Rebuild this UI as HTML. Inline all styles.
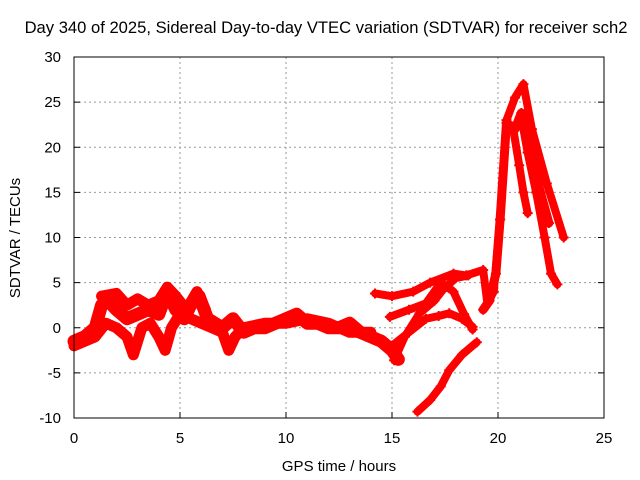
<!DOCTYPE html>
<html><head><meta charset="utf-8"><style>
body{margin:0;background:#fff}
svg{display:block;font-family:"Liberation Sans",sans-serif}
</style></head><body>
<svg id="chart" width="640" height="480" xmlns="http://www.w3.org/2000/svg">
<text x="326" y="33" font-size="16.6" text-anchor="middle">Day 340 of 2025, Sidereal Day-to-day VTEC variation (SDTVAR) for receiver sch2</text>
<text x="339" y="471" font-size="15" text-anchor="middle">GPS time / hours</text>
<text x="20" y="238" font-size="15" text-anchor="middle" transform="rotate(-90 20 238)">SDTVAR / TECUs</text>
<g id="grid"></g><g id="ticks"></g><g id="series"></g>
<rect x="74" y="57" width="530" height="361" fill="none" stroke="#000" stroke-width="1"/>
</svg>
<script>
const xTicks=[0,5,10,15,20,25];
const yTicks=[-10,-5,0,5,10,15,20,25,30];
const trackMain1=[[0,-1.5],[0.5,-1],[1,0],[1.3,2.5],[1.6,3],[2,2],[2.5,1],[3,1.5],[3.5,2],[4,1.5],[4.4,4],[4.8,2],[5.2,1],[5.5,2.5],[5.9,3.5],[6.3,1],[7,0],[7.5,1],[8,-0.5],[8.5,0],[9,0],[9.5,0.5],[10,1],[10.5,1.5],[11,0.5],[11.5,0.5],[12,0],[12.5,0],[13,0.5],[13.5,-0.5],[14,-1],[14.5,-1.5],[15,-2.5],[15.3,-3.5]];
const trackMain2=[[0,-2],[0.5,-1.5],[1,-1],[1.5,0.5],[2,0],[2.5,-1],[2.8,-3],[3.2,0],[3.6,0.5],[4,-1],[4.3,-2.5],[4.6,0],[5,1.5],[5.5,1],[6,0.5],[6.5,0],[7,-0.5],[7.3,-2.5],[7.6,-1],[8,0],[9,0.5],[10,0.5],[11,1],[12,0.5],[13,-0.5],[14,-0.5]];
const trackTop=[[1.3,3.5],[2,3.8],[2.5,2.5],[3,3.2],[3.5,2.5],[4,3],[4.4,4.5],[4.8,3.5],[5.3,2],[5.8,4],[6.2,2]];
const trackB=[[14.2,3.8],[15,3.5],[16,4],[16.8,5],[17.9,6],[18.5,5.8],[19.3,6.4],[19.5,2.7],[19.8,4],[20.1,12],[20.4,23],[20.8,25.5],[21.2,27],[21.6,22],[22.3,16],[23.1,10]];
const trackC=[[14.9,1.2],[15.8,2],[16.6,2.7],[17.3,5],[17.9,4],[18.4,1.5],[18.8,-0.2]];
const trackD=[[15.1,-3.6],[15.6,-1],[16.3,1.6],[17,3],[17.4,4.2],[18,5.5],[18.6,5.8]];
const trackE=[[15,-2],[15.8,-0.5],[16.6,1],[17.2,1.3],[17.7,1.6],[18.3,1],[18.8,0.1]];
const trackF=[[16.2,-9.3],[16.8,-8],[17.3,-6.5],[17.7,-4.7],[18.3,-3],[19,-1.6]];
const trackG=[[19.3,2],[19.6,3],[19.9,6],[20.1,12],[20.4,22.7],[20.8,22],[21.1,23.8],[21.6,19],[22,15],[22.4,11.6]];
const trackH=[[20.7,22.3],[21,18],[21.2,15],[21.4,12.7]];
const trackI=[[21.2,22],[21.4,19.4],[21.8,15],[22.2,10],[22.5,6],[22.8,4.8]];
const tracks=[trackMain1,trackMain2,trackTop,trackB,trackC,trackD,trackE,trackF,trackG,trackH,trackI];
const widths=[13,11,11,8,8,8,8,8,9,8,8];
const X=t=>74+t*21.2, Y=v=>327.75-v*9.025;
const NS="http://www.w3.org/2000/svg";
const grid=document.getElementById('grid'),ticks=document.getElementById('ticks'),ser=document.getElementById('series');
function mk(tag,at,parent){const e=document.createElementNS(NS,tag);for(const k in at)e.setAttribute(k,at[k]);parent.appendChild(e);return e;}
xTicks.forEach(t=>{
 if(t>0&&t<25){const g=mk('line',{x1:X(t),x2:X(t),y1:57,y2:418,stroke:'#999','stroke-dasharray':'2,3'},grid);
 
 }
 mk('line',{x1:X(t),x2:X(t),y1:418,y2:412,stroke:'#000'},ticks);
 const l=mk('text',{x:X(t),y:443,'font-size':15,'text-anchor':'middle'},ticks);l.textContent=t;
 
 
});
yTicks.forEach(v=>{
 if(v>-10&&v<30){const g=mk('line',{x1:74,x2:604,y1:Y(v),y2:Y(v),stroke:'#999','stroke-dasharray':'2,3'},grid);
 
 }
 mk('line',{x1:74,x2:80,y1:Y(v),y2:Y(v),stroke:'#000'},ticks);
 mk('line',{x1:604,x2:598,y1:Y(v),y2:Y(v),stroke:'#000'},ticks);
 const l=mk('text',{x:61,y:Y(v)+5,'font-size':15,'text-anchor':'end'},ticks);l.textContent=v;
 
 
});
tracks.forEach((tr,i)=>{
 const p=mk('polyline',{points:tr.map(d=>X(d[0])+','+Y(d[1])).join(' '),fill:'none',stroke:'#f00','stroke-width':widths[i],'stroke-linejoin':'round','stroke-linecap':'round'},ser);
 
 
 tr.forEach(d=>{
  const m=mk('path',{d:`M${X(d[0])-5},${Y(d[1])}h10M${X(d[0])},${Y(d[1])-5}v10`,stroke:'#f00','stroke-width':2},ser);
  
  
 });
});
</script>
</body></html>
